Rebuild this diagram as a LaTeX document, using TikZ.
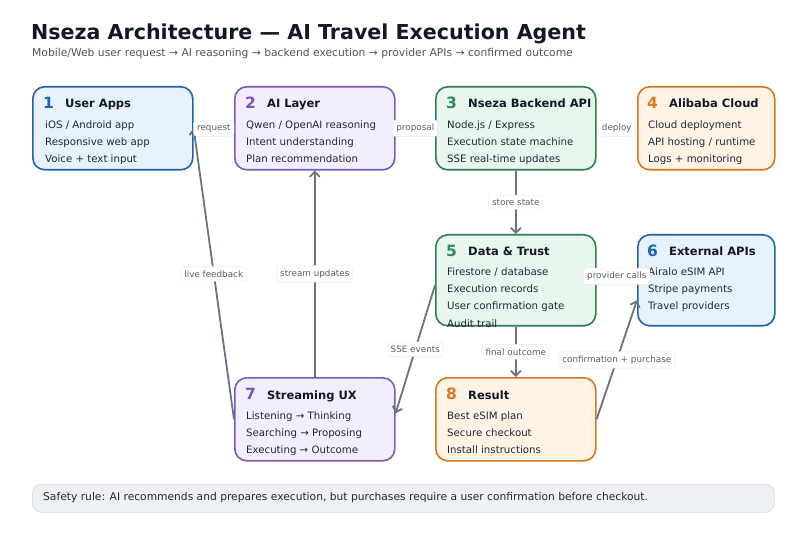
\documentclass[tikz,border=0pt]{standalone}
\usepackage{fontspec}
\setmainfont{DejaVu Sans}
\usetikzlibrary{arrows.meta,calc}
\definecolor{blueB}{HTML}{2462A8}
\definecolor{blueF}{HTML}{E8F2FD}
\definecolor{blueN}{HTML}{1F63B5}
\definecolor{purB}{HTML}{7C5AB8}
\definecolor{purF}{HTML}{F3EEFD}
\definecolor{purN}{HTML}{7B52B8}
\definecolor{grnB}{HTML}{2F7D52}
\definecolor{grnF}{HTML}{E8F6EE}
\definecolor{grnN}{HTML}{2E8B57}
\definecolor{orB}{HTML}{D4781E}
\definecolor{orF}{HTML}{FFF3E6}
\definecolor{orN}{HTML}{D9781F}
\definecolor{ink}{HTML}{111827}
\definecolor{itemc}{HTML}{1F2933}
\definecolor{subc}{HTML}{4B5563}
\definecolor{arrc}{HTML}{6B7280}
\definecolor{lblc}{HTML}{555F6B}
\definecolor{lblb}{HTML}{E5E7EB}
\definecolor{footF}{HTML}{EEF1F4}
\definecolor{footB}{HTML}{D5DAE0}
\tikzset{
  archbox/.style={rounded corners=12pt, line width=1.6pt, anchor=north west, inner sep=0pt},
  numtxt/.style={font=\fontsize{15.5}{18}\selectfont\bfseries, anchor=base west, inner sep=0pt},
  hdrtxt/.style={font=\fontsize{11.5}{14}\selectfont\bfseries, text=ink, anchor=base west, inner sep=0pt},
  itemtxt/.style={font=\fontsize{10.2}{12}\selectfont, text=itemc, anchor=base west, inner sep=0pt},
  arr/.style={draw=arrc, line width=1.8pt, -{Straight Barb[length=5pt,width=10pt]}},
  lbl/.style={font=\fontsize{8.8}{10}\selectfont, text=lblc, fill=white, draw=lblb, line width=0.4pt, rounded corners=3pt, inner xsep=3.5pt, inner ysep=4pt}
}
\begin{document}
\begin{tikzpicture}[x=1pt,y=-1pt]
\path[use as bounding box, fill=white] (0,0) rectangle (806,537);
% title
\node[font=\fontsize{20.6}{24}\selectfont\bfseries, text=ink, anchor=base west, inner sep=0pt] (title) at (31,40) {Nseza Architecture — AI Travel Execution Agent};
\node[font=\fontsize{10.75}{13}\selectfont, text=subc, anchor=base west, inner sep=0pt] (subtitle) at (32,57) {Mobile/Web user request → AI reasoning → backend execution → provider APIs → confirmed outcome};
% boxes
\node[archbox, draw=blueB, fill=blueF, minimum width=160pt, minimum height=83pt] (b1) at (32,86) {};
\node[archbox, draw=purB, fill=purF, minimum width=160pt, minimum height=83pt] (b2) at (234,86) {};
\node[archbox, draw=grnB, fill=grnF, minimum width=160pt, minimum height=83pt] (b3) at (435,86) {};
\node[archbox, draw=orB, fill=orF, minimum width=137pt, minimum height=83pt] (b4) at (637,86) {};
\node[archbox, draw=grnB, fill=grnF, minimum width=160pt, minimum height=91pt] (b5) at (435,234) {};
\node[archbox, draw=blueB, fill=blueF, minimum width=137pt, minimum height=91pt] (b6) at (637,234) {};
\node[archbox, draw=purB, fill=purF, minimum width=160pt, minimum height=83pt] (b7) at (234,377) {};
\node[archbox, draw=orB, fill=orF, minimum width=160pt, minimum height=83pt] (b8) at (435,377) {};
% box 1
\node[numtxt, text=blueN] (n1) at (43,108.5) {1};
\node[hdrtxt] (h1) at (65,108) {User Apps};
\node[itemtxt] (i1a) at (45,129) {iOS / Android app};
\node[itemtxt] (i1b) at (45,146) {Responsive web app};
\node[itemtxt] (i1c) at (45,163) {Voice + text input};
% box 2
\node[numtxt, text=purN] (n2) at (245,108.5) {2};
\node[hdrtxt] (h2) at (267,108) {AI Layer};
\node[itemtxt] (i2a) at (246,129) {Qwen / OpenAI reasoning};
\node[itemtxt] (i2b) at (246,146) {Intent understanding};
\node[itemtxt] (i2c) at (246,163) {Plan recommendation};
% box 3
\node[numtxt, text=grnN] (n3) at (446,108.5) {3};
\node[hdrtxt] (h3) at (468,108) {Nseza Backend API};
\node[itemtxt] (i3a) at (447,129) {Node.js / Express};
\node[itemtxt] (i3b) at (447,146) {Execution state machine};
\node[itemtxt] (i3c) at (447,163) {SSE real-time updates};
% box 4
\node[numtxt, text=orN] (n4) at (647,108.5) {4};
\node[hdrtxt] (h4) at (669,108) {Alibaba Cloud};
\node[itemtxt] (i4a) at (648,129) {Cloud deployment};
\node[itemtxt] (i4b) at (648,146) {API hosting / runtime};
\node[itemtxt] (i4c) at (648,163) {Logs + monitoring};
% box 5
\node[numtxt, text=grnN] (n5) at (446,256.5) {5};
\node[hdrtxt] (h5) at (468,256) {Data \& Trust};
\node[itemtxt] (i5a) at (447,276) {Firestore / database};
\node[itemtxt] (i5b) at (447,293) {Execution records};
\node[itemtxt] (i5c) at (447,310) {User confirmation gate};
\node[itemtxt] (i5d) at (447,327) {Audit trail};
% box 6
\node[numtxt, text=blueN] (n6) at (647,256.5) {6};
\node[hdrtxt] (h6) at (669,256) {External APIs};
\node[itemtxt] (i6a) at (648,276) {Airalo eSIM API};
\node[itemtxt] (i6b) at (648,293) {Stripe payments};
\node[itemtxt] (i6c) at (648,310) {Travel providers};
% box 7
\node[numtxt, text=purN] (n7) at (245,399.5) {7};
\node[hdrtxt] (h7) at (267,399) {Streaming UX};
\node[itemtxt] (i7a) at (246,419) {Listening → Thinking};
\node[itemtxt] (i7b) at (246,436) {Searching → Proposing};
\node[itemtxt] (i7c) at (246,453) {Executing → Outcome};
% box 8
\node[numtxt, text=orN] (n8) at (446,399.5) {8};
\node[hdrtxt] (h8) at (468,399) {Result};
\node[itemtxt] (i8a) at (447,419) {Best eSIM plan};
\node[itemtxt] (i8b) at (447,436) {Secure checkout};
\node[itemtxt] (i8c) at (447,453) {Install instructions};
% connectors
\draw[arr] (b7.west) -- (b1.east) node[midway, lbl] {live feedback};
\draw[arr] (b7.north) -- (b2.south) node[midway, lbl] {stream updates};
\draw[arr] (b3.south) -- (b5.north) node[midway, lbl] {store state};
\draw[arr] ([yshift=-5pt]b5.west) -- ([yshift=6pt]b7.east) node[midway, lbl] {SSE events};
\draw[arr] (b5.south) -- (b8.north) node[midway, lbl] {final outcome};
\draw[arr] (b8.east) -- ([yshift=-20pt]b6.west) node[midway, lbl] {confirmation + purchase};
\path (b1.east) -- node[lbl] (lreq) {request} (b2.west);
\path (b2.east) -- node[lbl] (lprop) {proposal} (b3.west);
\path (b3.east) -- node[lbl] (ldep) {deploy} (b4.west);
\path ([yshift=4pt]b5.east) -- node[lbl] (lprov) {provider calls} ([yshift=4pt]b6.west);
% footer
\node[archbox, rounded corners=9pt, line width=0.6pt, draw=footB, fill=footF, minimum width=742pt, minimum height=28pt] (foot) at (32,484) {};
\node[font=\fontsize{10.7}{12}\selectfont, text=itemc, anchor=west, inner sep=0pt] (foottxt) at (43,498) {Safety rule: AI recommends and prepares execution, but purchases require a user confirmation before checkout.};
\end{tikzpicture}
\end{document}
